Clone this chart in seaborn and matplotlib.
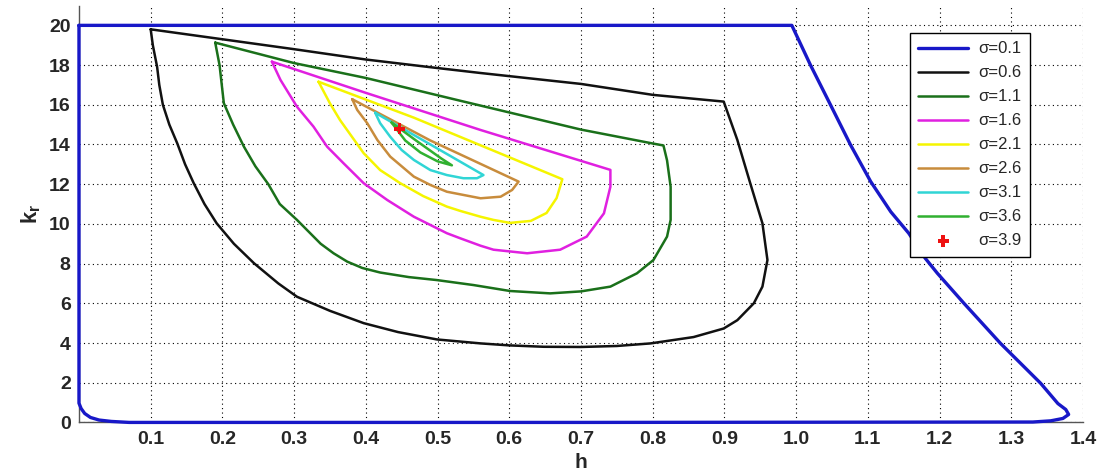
import matplotlib
matplotlib.use('Agg')

import matplotlib.pyplot as plt
import seaborn as sns

# sigma = 0.1 (outer closed boundary)
h_01 = [0.0, 0.0, 0.003, 0.008, 0.016, 0.028, 0.045, 0.07, 0.7, 1.33, 1.355, 1.372, 1.38,
        1.376, 1.365, 1.341, 1.285, 1.234, 1.197, 1.18, 1.157, 1.132, 1.104, 1.076,
        1.048, 1.02, 0.994, 0.5, 0.0]
k_01 = [20, 0.97, 0.7, 0.45, 0.25, 0.12, 0.05, 0.0, 0.0, 0.02, 0.08, 0.2, 0.4,
        0.65, 0.95, 1.97, 3.98, 6.0, 7.51, 8.27, 9.53, 10.61, 12.13, 13.97,
        15.99, 18.0, 20, 20, 20]

# sigma = 0.6
h_06 = [0.1, 0.103, 0.109, 0.112, 0.117, 0.126, 0.137, 0.148, 0.160, 0.175, 0.192, 0.216,
        0.244, 0.278, 0.304, 0.35, 0.397, 0.445, 0.499, 0.56, 0.60, 0.648, 0.70, 0.75,
        0.797, 0.857, 0.899, 0.918, 0.941, 0.953, 0.96, 0.953, 0.936, 0.918, 0.899,
        0.80, 0.70, 0.56, 0.50, 0.40, 0.30, 0.2, 0.1]
k_06 = [19.8, 19.0, 17.9, 17.0, 16.0, 15.0, 14.06, 13.0, 12.05, 11.0, 10.03, 9.0,
        8.02, 7.0, 6.33, 5.62, 5.0, 4.55, 4.18, 3.98, 3.88, 3.81, 3.8, 3.85,
        3.98, 4.3, 4.73, 5.15, 6.0, 6.84, 8.18, 10.03, 12.05, 14.23, 16.16,
        16.5, 17.05, 17.6, 17.85, 18.28, 18.8, 19.3, 19.8]

# sigma = 1.1
h_11 = [0.19, 0.196, 0.202, 0.215, 0.23, 0.246, 0.264, 0.28, 0.304, 0.337, 0.355, 0.374,
        0.395, 0.42, 0.46, 0.499, 0.55, 0.601, 0.657, 0.70, 0.741, 0.778, 0.801, 0.82,
        0.825, 0.825, 0.82, 0.815, 0.80, 0.70, 0.532, 0.4, 0.3, 0.19]
k_11 = [19.13, 18.0, 16.08, 15.0, 13.89, 12.9, 12.0, 11.0, 10.2, 9.0, 8.52, 8.1,
        7.78, 7.55, 7.32, 7.17, 6.92, 6.62, 6.5, 6.6, 6.84, 7.51, 8.18, 9.36,
        10.2, 11.87, 13.2, 13.95, 14.05, 14.75, 16.2, 17.35, 18.1, 19.13]

# sigma = 1.6
h_16 = [0.269, 0.281, 0.304, 0.327, 0.346, 0.369, 0.397, 0.43, 0.467, 0.513, 0.532, 0.56,
        0.578, 0.625, 0.671, 0.708, 0.732, 0.741, 0.741, 0.56, 0.4, 0.269]
k_16 = [18.17, 17.25, 15.9, 14.9, 13.89, 13.05, 12.05, 11.2, 10.36, 9.53, 9.27, 8.9,
        8.7, 8.52, 8.7, 9.36, 10.53, 11.87, 12.72, 14.73, 16.6, 18.17]

# sigma = 2.1
h_21 = [0.334, 0.35, 0.364, 0.397, 0.42, 0.448, 0.48, 0.513, 0.532, 0.56, 0.578, 0.601,
        0.63, 0.652, 0.666, 0.674, 0.467, 0.334]
k_21 = [17.16, 16.07, 15.23, 13.56, 12.71, 12.05, 11.4, 10.87, 10.65, 10.36, 10.2, 10.05,
        10.15, 10.55, 11.3, 12.25, 15.35, 17.16]

# sigma = 2.6
h_26 = [0.381, 0.388, 0.402, 0.416, 0.434, 0.467, 0.49, 0.513, 0.56, 0.588, 0.604, 0.613,
        0.49, 0.381]
k_26 = [16.28, 15.74, 15.07, 14.23, 13.39, 12.38, 11.96, 11.62, 11.29, 11.37, 11.71, 12.13,
        14.2, 16.28]

# sigma = 3.1
h_31 = [0.413, 0.42, 0.434, 0.45, 0.467, 0.49, 0.513, 0.536, 0.555, 0.564, 0.49, 0.413]
k_31 = [15.6, 15.07, 14.39, 13.72, 13.22, 12.71, 12.46, 12.3, 12.3, 12.46, 14.0, 15.6]

# sigma = 3.6
h_36 = [0.436, 0.455, 0.476, 0.50, 0.52, 0.505, 0.47, 0.436]
k_36 = [15.1, 14.2, 13.6, 13.15, 12.95, 13.3, 14.2, 15.1]

# sigma = 3.9 (single point)
h_39 = [0.447]
k_39 = [14.8]

labels = ['σ=0.1', 'σ=0.6', 'σ=1.1', 'σ=1.6', 'σ=2.1', 'σ=2.6', 'σ=3.1', 'σ=3.6', 'σ=3.9']
colors = ['#1818c8', '#111111', '#1a701a', '#e020e0', '#f5f500', '#c88c3c', '#30d5d5', '#30b030', '#ee1111']

x_ticks = [0.1, 0.2, 0.3, 0.4, 0.5, 0.6, 0.7, 0.8, 0.9, 1.0, 1.1, 1.2, 1.3, 1.4]
y_ticks = [0, 2, 4, 6, 8, 10, 12, 14, 16, 18, 20]

sns.set_theme(style='white')
plt.rcParams['font.family'] = ['Liberation Sans', 'DejaVu Sans']
plt.rcParams['mathtext.fontset'] = 'custom'
plt.rcParams['mathtext.bf'] = 'Liberation Sans:bold'
plt.rcParams['mathtext.rm'] = 'Liberation Sans'

fig = plt.figure(figsize=(11.06, 4.75), dpi=100)
ax = fig.add_axes([0.0714, 0.1107, 0.9078, 0.8777])

curves = [(h_01, k_01), (h_06, k_06), (h_11, k_11), (h_16, k_16), (h_21, k_21),
          (h_26, k_26), (h_31, k_31), (h_36, k_36)]
widths = [2.4, 1.8, 1.8, 1.8, 1.8, 1.8, 1.8, 1.8]
for (hh, kk), lab, col, w in zip(curves, labels[:-1], colors[:-1], widths):
    sns.lineplot(x=hh, y=kk, sort=False, estimator=None, color=col, lw=w,
                 label=lab, ax=ax, clip_on=False, zorder=3)

sns.scatterplot(x=h_39, y=k_39, marker='P', s=70, color=colors[-1], edgecolor='none',
                label=labels[-1], ax=ax, zorder=4)

ax.set_xlim(0, 1.4)
ax.set_ylim(0, 21)
ax.set_xticks(x_ticks)
ax.set_yticks(y_ticks)
ax.set_xticklabels(['%.1f' % t for t in x_ticks])
ax.set_yticklabels([str(t) for t in y_ticks])
ax.grid(True, color='black', linestyle=(0, (1, 3)), linewidth=0.8)
ax.tick_params(direction='in', length=4, color='grey', labelsize=14, pad=6)
for lab in ax.get_xticklabels() + ax.get_yticklabels():
    lab.set_fontweight('bold')

for s in ['top', 'right']:
    ax.spines[s].set_visible(False)
for s in ['left', 'bottom']:
    ax.spines[s].set_color('#555555')
    ax.spines[s].set_linewidth(1.0)

ax.set_xlabel('h', fontsize=15, fontweight='bold', labelpad=4)
ax.set_ylabel(r'$\mathbf{k_r}$', fontsize=16, labelpad=4)

leg = ax.legend(loc='upper left', bbox_to_anchor=(0.8277, 0.934), fontsize=12,
                frameon=True, fancybox=False, framealpha=1, edgecolor='black',
                handlelength=3.0, labelspacing=0.54, borderpad=0.5, handletextpad=0.6,
                borderaxespad=0)
leg.get_frame().set_linewidth(1.0)
leg.set_zorder(10)

fig.savefig('out.png', dpi=100)
